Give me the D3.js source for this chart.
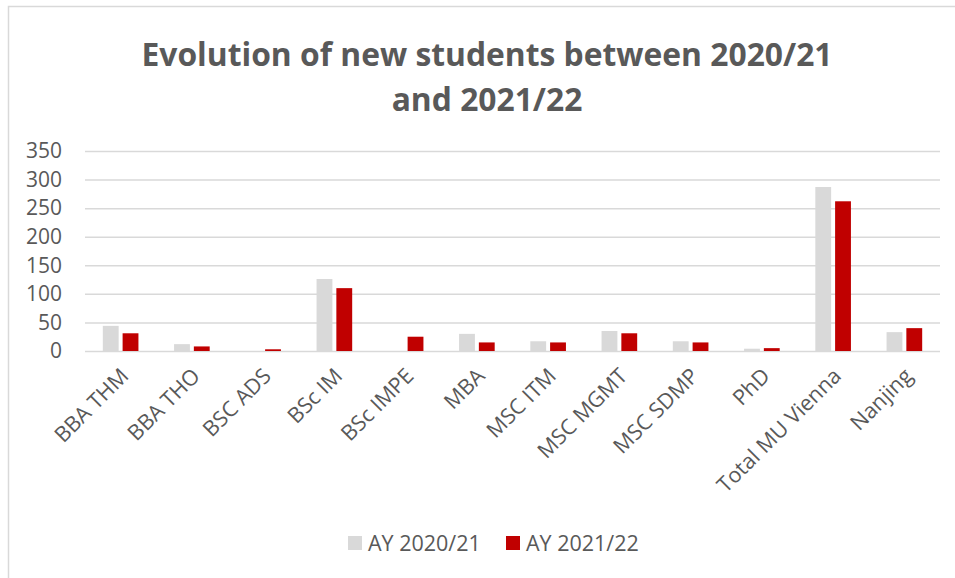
<!DOCTYPE html>
<html>
<head>
<meta charset="utf-8">
<script src="https://cdn.jsdelivr.net/npm/d3@7"></script>
<style>
  html, body { margin: 0; padding: 0; background: #ffffff; }
  svg { display: block; }
  text { font-family: "Open Sans", "DejaVu Sans", sans-serif; fill: #595959; }
</style>
</head>
<body>
<svg id="chart" width="955" height="578"></svg>
<script>
// Programmes (categories along the x axis)
const categories = ["BBA THM", "BBA THO", "BSC ADS", "BSc IM", "BSc IMPE", "MBA",
  "MSC ITM", "MSC MGMT", "MSC SDMP", "PhD", "Total MU Vienna", "Nanjing"];
// New students per programme, one array per academic year
const ay2021 = [44, 12, 0, 126, 0, 30, 17, 35, 17, 4, 287, 33];
const ay2122 = [31, 8, 3, 110, 25, 15, 15, 31, 15, 5, 262, 40];
const seriesNames = ["AY 2020/21", "AY 2021/22"];
const seriesColors = ["#d9d9d9", "#c00000"];
const yTicks = [0, 50, 100, 150, 200, 250, 300, 350];
const titleLines = ["Evolution of new students between 2020/21", "and 2021/22"];

const svg = d3.select("#chart");
const plotLeft = 85, plotRight = 940, plotTop = 151, plotBottom = 351;

// Chart area border
svg.append("rect")
  .attr("x", 8.5).attr("y", 6.5)
  .attr("width", 1000).attr("height", 1000)
  .attr("fill", "none").attr("stroke", "#d9d9d9").attr("stroke-width", 1.5);

// Title
svg.append("g").selectAll("text").data(titleLines).join("text")
  .attr("x", 487).attr("y", (d, i) => 66 + i * 45)
  .attr("text-anchor", "middle")
  .attr("font-size", 31.8).attr("font-weight", 700)
  .text(d => d);

const x0 = d3.scaleBand().domain(categories).range([plotLeft, plotRight])
  .paddingInner(0.5).paddingOuter(0.25);
const x1 = d3.scaleBand().domain(seriesNames).range([0, x0.bandwidth()])
  .paddingInner(0.2);
const y = d3.scaleLinear().domain([0, 350]).range([plotBottom, plotTop]);

// Horizontal gridlines with value labels
const yAxis = d3.axisLeft(y).tickValues(yTicks).tickSize(-(plotRight - plotLeft)).tickPadding(23);
const gy = svg.append("g").attr("transform", `translate(${plotLeft},0)`).call(yAxis);
gy.select(".domain").remove();
gy.selectAll(".tick line").attr("stroke", "#d9d9d9").attr("stroke-width", 1.5);
gy.selectAll(".tick text").attr("font-size", 21).attr("fill", "#595959")
  .style("font-family", "'Open Sans', sans-serif");

// Bars
const rows = categories.map((c, i) => ({ cat: c, vals: [ay2021[i], ay2122[i]] }));
const groups = svg.append("g").selectAll("g").data(rows).join("g")
  .attr("transform", d => `translate(${x0(d.cat)},0)`);
groups.selectAll("rect")
  .data(d => d.vals.map((v, j) => ({ name: seriesNames[j], v, color: seriesColors[j] })))
  .join("rect")
  .attr("x", d => x1(d.name))
  .attr("width", x1.bandwidth())
  .attr("y", d => y(d.v))
  .attr("height", d => y(0) - y(d.v))
  .attr("fill", d => d.color);

// Category labels, rotated
const xAxis = d3.axisBottom(x0).tickSize(0).tickPadding(0);
const gx = svg.append("g").attr("transform", `translate(0,${plotBottom})`).call(xAxis);
gx.select(".domain").remove();
gx.selectAll(".tick text")
  .attr("font-size", 21.5).attr("fill", "#595959")
  .style("font-family", "'Open Sans', sans-serif")
  .attr("text-anchor", "end")
  .attr("dy", "0.35em")
  .attr("transform", "translate(4,21) rotate(-45)");

// Legend
const legend = svg.append("g");
const legendX = [348, 506];
seriesNames.forEach((name, i) => {
  legend.append("rect").attr("x", legendX[i]).attr("y", 536)
    .attr("width", 14).attr("height", 14).attr("fill", seriesColors[i]);
  legend.append("text").attr("x", legendX[i] + 20).attr("y", 551)
    .attr("font-size", 21.5).text(name);
});
</script>
</body>
</html>
